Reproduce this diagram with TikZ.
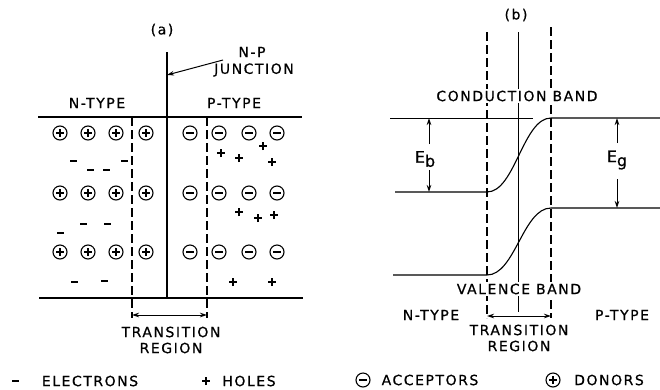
\documentclass[tikz,border=0pt]{standalone}
\usepackage{fontspec}
\setmainfont{DejaVu Sans}[LetterSpace=11,FakeBold=0.6]
\usetikzlibrary{arrows.meta}
\tikzset{
  ln/.style={line width=1.1pt},
  thin ln/.style={line width=0.9pt},
  dsh/.style={line width=1.1pt, dash pattern=on 9pt off 4pt},
  arr/.style={line width=1pt, -{Stealth[length=7pt,width=4.5pt]}},
  darr/.style={line width=1pt, {Stealth[length=7pt,width=4.5pt]}-{Stealth[length=7pt,width=4.5pt]}},
  lbl/.style={font=\fontsize{14}{16}\selectfont, inner sep=1pt},
  elbl/.style={font=\fontsize{16}{18}\selectfont, inner sep=1pt},
  wlbl/.style={lbl, fill=white, inner sep=1.5pt},
  donor/.style={circle, draw, line width=1.1pt, minimum size=14pt, inner sep=0pt,
    path picture={\draw[line width=1.2pt]
      ([xshift=-3.8pt]path picture bounding box.center) -- ([xshift=3.8pt]path picture bounding box.center)
      ([yshift=-3.8pt]path picture bounding box.center) -- ([yshift=3.8pt]path picture bounding box.center);}},
  acceptor/.style={circle, draw, line width=1.1pt, minimum size=14pt, inner sep=0pt,
    path picture={\draw[line width=1.3pt]
      ([xshift=-4pt]path picture bounding box.center) -- ([xshift=4pt]path picture bounding box.center);}},
  electron/.style={rectangle, fill, minimum width=7pt, minimum height=2.2pt, inner sep=0pt},
  hole/.style={minimum size=9pt, inner sep=0pt,
    path picture={\draw[line width=1.4pt]
      ([xshift=-4pt]path picture bounding box.center) -- ([xshift=4pt]path picture bounding box.center)
      ([yshift=-4pt]path picture bounding box.center) -- ([yshift=4pt]path picture bounding box.center);}},
}
\begin{document}
\begin{tikzpicture}[x=1pt,y=-1pt]
\useasboundingbox (0,0) rectangle (660,389);

% ---------------- Panel (a) ----------------
\node[lbl] (la) at (162,30) {(a)};
\coordinate (jt) at (167,52);
\coordinate (jb) at (167,298);
\coordinate (tl) at (38,117);
\coordinate (tr) at (302,117);
\coordinate (bl) at (39,298);
\coordinate (br) at (303,298);
\coordinate (dl1) at (132,117);
\coordinate (dl2) at (132,318);
\coordinate (dr1) at (207,117);
\coordinate (dr2) at (207,318);
\coordinate (ja) at (167,75);
\coordinate (js) at (223,60);
\draw[ln] (tl) -- (tr);
\draw[ln] (bl) -- (br);
\draw[ln] (jt) -- (jb);
\draw[dsh] (dl1) -- (dl2);
\draw[dsh] (dr1) -- (dr2);
\coordinate (ta1) at (132,315);
\coordinate (ta2) at (207,315);
\draw[darr] (ta1) -- (ta2);
\draw[arr] (js) -- (ja);
\node[lbl] (np) at (252,52) {N-P};
\node[lbl] (jn) at (254,70) {JUNCTION};
\node[lbl] (ntA) at (97,103) {N-TYPE};
\node[lbl] (ptA) at (234,103) {P-TYPE};
\node[lbl] (trA) at (171,332) {TRANSITION};
\node[lbl] (rgA) at (171,348) {REGION};

% donors and acceptors
\foreach \r/\y in {1/133,2/193,3/252}{
  \node[donor] (d\r a) at (60,\y) {};
  \node[donor] (d\r b) at (88,\y) {};
  \node[donor] (d\r c) at (116,\y) {};
  \node[donor] (d\r d) at (146,\y) {};
  \node[acceptor] (a\r a) at (190,\y) {};
  \node[acceptor] (a\r b) at (219,\y) {};
  \node[acceptor] (a\r c) at (249,\y) {};
  \node[acceptor] (a\r d) at (277,\y) {};
}
% electrons
\node[electron] (e1) at (73,161) {};
\node[electron] (e2) at (90,170) {};
\node[electron] (e3) at (106,170) {};
\node[electron] (e4) at (124,161) {};
\node[electron] (e5) at (83,224) {};
\node[electron] (e6) at (107,224) {};
\node[electron] (e7) at (60,233) {};
\node[electron] (e8) at (74,282) {};
\node[electron] (e9) at (104,281) {};
% holes
\node[hole] (h1) at (221,153) {};
\node[hole] (h2) at (239,158) {};
\node[hole] (h3) at (263,146) {};
\node[hole] (h4) at (272,162) {};
\node[hole] (h5) at (239,212) {};
\node[hole] (h6) at (258,218) {};
\node[hole] (h7) at (274,215) {};
\node[hole] (h8) at (233,282) {};
\node[hole] (h9) at (272,282) {};

% ---------------- Panel (b) ----------------
\node[lbl] (lb) at (516,15) {(b)};
\coordinate (bl1) at (487,32);
\coordinate (bl2) at (487,318);
\coordinate (br1) at (551,27);
\coordinate (br2) at (551,318);
\coordinate (bj1) at (518,32);
\coordinate (bj2) at (518,312);
\draw[dsh] (bl1) -- (bl2);
\draw[dsh] (br1) -- (br2);
\draw[thin ln] (bj1) -- (bj2);
% conduction band
\coordinate (cref1) at (390,118);
\coordinate (cref2) at (533,118);
\draw[thin ln] (cref1) -- (cref2);
\coordinate (cn0) at (395,192);
\coordinate (cn1) at (487,192);
\coordinate (cp1) at (551,118);
\coordinate (cp2) at (660,118);
\draw[ln] (cn0) -- (cn1) .. controls (515,192) and (523,118) .. (cp1) -- (cp2);
% valence band
\coordinate (vn0) at (393,275);
\coordinate (vn1) at (487,275);
\coordinate (vp1) at (551,208);
\coordinate (vp2) at (660,208);
\draw[ln] (vn0) -- (vn1) .. controls (515,275) and (523,208) .. (vp1) -- (vp2);
\node[wlbl] (cb) at (517,96) {CONDUCTION BAND};
\node[wlbl] (vb) at (519,289) {VALENCE BAND};
% E_b
\node[elbl] (eb) at (425,159) {E\raisebox{-4pt}{b}};
\coordinate (eb1) at (429,144);
\coordinate (eb2) at (429,118);
\coordinate (eb3) at (429,170);
\coordinate (eb4) at (429,192);
\draw[arr] (eb1) -- (eb2);
\draw[arr] (eb3) -- (eb4);
% E_g
\node[elbl] (eg) at (617,160) {E\raisebox{-4pt}{g}};
\coordinate (eg1) at (617,143);
\coordinate (eg2) at (617,118);
\coordinate (eg3) at (617,179);
\coordinate (eg4) at (617,208);
\draw[arr] (eg1) -- (eg2);
\draw[arr] (eg3) -- (eg4);
% transition
\coordinate (tb1) at (487,316);
\coordinate (tb2) at (551,316);
\draw[darr] (tb1) -- (tb2);
\node[lbl] (ntB) at (431,315) {N-TYPE};
\node[lbl] (ptB) at (622,315) {P-TYPE};
\node[lbl] (trB) at (519,330) {TRANSITION};
\node[lbl] (rgB) at (519,346) {REGION};

% ---------------- Legend ----------------
\node[electron] (le) at (15,381) {};
\node[lbl] (lel) at (90,381) {ELECTRONS};
\node[hole] (lh) at (206,381) {};
\node[lbl] (lhl) at (249,381) {HOLES};
\node[acceptor] (la2) at (363,380) {};
\node[lbl] (lal) at (430,380) {ACCEPTORS};
\node[donor] (ld) at (553,380) {};
\node[lbl] (ldl) at (609,380) {DONORS};
\end{tikzpicture}
\end{document}
